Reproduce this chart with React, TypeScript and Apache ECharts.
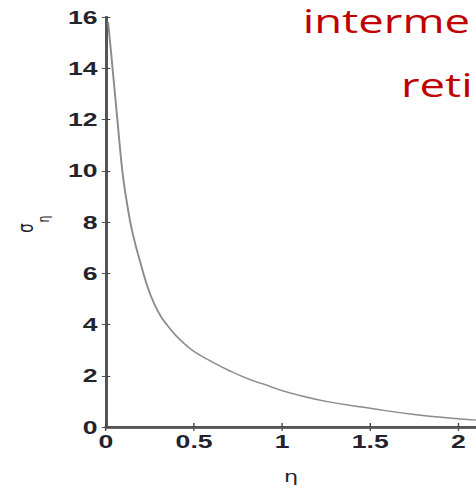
import React, { useEffect, useRef } from "react";
import * as echarts from "echarts";

// Decay of sigma_eta with eta
const etaValues = [
  0.012, 0.025, 0.04, 0.055, 0.07, 0.085, 0.1, 0.12, 0.15, 0.2, 0.25, 0.3,
  0.35, 0.4, 0.45, 0.5, 0.6, 0.7, 0.8, 0.9, 1.0, 1.1, 1.25, 1.5, 1.75, 2.0,
  2.1,
];
const sigmaValues = [
  15.8, 14.9, 13.8, 12.7, 11.6, 10.5, 9.6, 8.7, 7.6, 6.3, 5.2, 4.45, 3.95,
  3.55, 3.22, 2.95, 2.55, 2.2, 1.9, 1.66, 1.42, 1.23, 1.0, 0.73, 0.49, 0.32,
  0.27,
];
const overlayLines = ["interme", "reti"];

const PAGE_W = 476;
const PAGE_H = 490;
const STRETCH = 1.4; // the figure is drawn narrow, then widened
const INNER_W = PAGE_W / STRETCH;

export default function App() {
  const ref = useRef<HTMLDivElement>(null);

  useEffect(() => {
    if (!ref.current) return;
    const chart = echarts.init(ref.current, undefined, { renderer: "svg" });
    const labelFont = {
      fontFamily: "Liberation Sans",
      fontSize: 19,
      fontWeight: "bold" as const,
      color: "#23232e",
    };
    chart.setOption({
      animation: false,
      backgroundColor: "#ffffff",
      grid: { left: 75.7, top: 17, width: 265, height: 410 },
      xAxis: [
        {
          type: "value",
          position: "bottom",
          min: 0,
          max: 2.1,
          interval: 0.5,
          axisLine: { lineStyle: { color: "#3a3a3a", width: 2.5 } },
          axisTick: { inside: true, length: 4, lineStyle: { color: "#444" } },
          axisLabel: { ...labelFont, margin: 5, showMaxLabel: false },
          splitLine: { show: false },
          name: "η",
          nameLocation: "middle",
          nameGap: 42,
          nameTextStyle: {
            fontFamily: "DejaVu Sans",
            fontSize: 16,
            color: "#23232e",
          },
        },
        {
          type: "value",
          position: "top",
          min: 0,
          max: 2.1,
          interval: 0.5,
          axisLine: { lineStyle: { color: "#555", width: 2 } },
          axisTick: { inside: true, length: 4, lineStyle: { color: "#555" } },
          axisLabel: { show: false },
          splitLine: { show: false },
        },
      ],
      yAxis: [
        {
          type: "value",
          position: "left",
          min: 0,
          max: 16,
          interval: 2,
          axisLine: { lineStyle: { color: "#3a3a3a", width: 2 } },
          axisTick: { inside: true, length: 3, lineStyle: { color: "#444" } },
          axisLabel: { ...labelFont, margin: 6 },
          splitLine: { show: false },
        },
        {
          type: "value",
          position: "right",
          min: 0,
          max: 16,
          interval: 2,
          axisLine: { lineStyle: { color: "#555", width: 2 } },
          axisTick: { inside: true, length: 3, lineStyle: { color: "#555" } },
          axisLabel: { show: false },
          splitLine: { show: false },
        },
      ],
      series: [
        {
          type: "line",
          xAxisIndex: 0,
          yAxisIndex: 0,
          data: etaValues.map((e, i) => [e, sigmaValues[i]]),
          showSymbol: false,
          smooth: 0.5,
          lineStyle: { color: "#8c8c8c", width: 1.4 },
        },
      ],
      graphic: [
        // y-axis title: sigma with subscript eta, read bottom to top
        {
          type: "text",
          x: 18,
          y: 228,
          rotation: Math.PI / 2,
          z: 100,
          style: {
            text: "σ",
            font: "15px 'DejaVu Sans'",
            fill: "#23232e",
            align: "center",
            verticalAlign: "middle",
          },
        },
        {
          type: "text",
          x: 31,
          y: 219,
          rotation: Math.PI / 2,
          z: 100,
          style: {
            text: "η",
            font: "11px 'DejaVu Sans'",
            fill: "#23232e",
            align: "center",
            verticalAlign: "middle",
          },
        },
        // red caption lying over the top-right corner
        {
          type: "rect",
          z: 99,
          shape: { x: 215.7, y: 0, width: INNER_W - 215.7 + 2, height: 40 },
          style: { fill: "#ffffff" },
        },
        {
          type: "text",
          x: 216.2,
          y: 20.5,
          z: 100,
          style: {
            text: overlayLines[0],
            font: "32.5px 'Open Sans'",
            fill: "#c00000",
            align: "left",
            verticalAlign: "middle",
          },
        },
        {
          type: "text",
          x: 286.4,
          y: 84.5,
          z: 100,
          style: {
            text: overlayLines[1],
            font: "32.5px 'Open Sans'",
            fill: "#c00000",
            align: "left",
            verticalAlign: "middle",
          },
        },
      ],
    });
    return () => chart.dispose();
  }, []);

  return (
    <div
      style={{
        position: "absolute",
        left: 0,
        top: 0,
        width: PAGE_W,
        height: PAGE_H,
        overflow: "hidden",
        background: "#fff",
      }}
    >
      <div
        ref={ref}
        style={{
          width: INNER_W,
          height: PAGE_H,
          transform: `scaleX(${STRETCH})`,
          transformOrigin: "0 0",
        }}
      />
    </div>
  );
}
